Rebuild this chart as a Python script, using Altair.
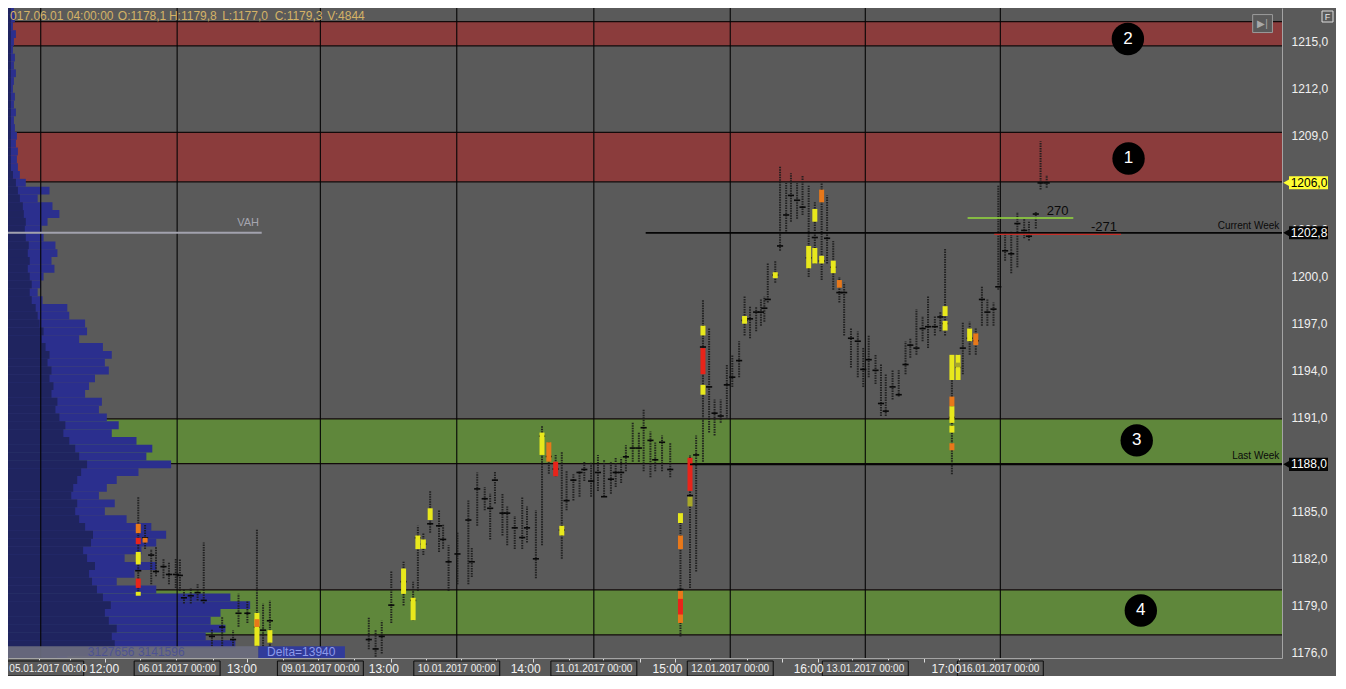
import altair as alt
import pandas as pd

W, H = 1274, 650
T_MAX = 186.8
P_LO, P_HI = 1175.62, 1217.17
VOL_MAX = 128900
BG = "#5a5a5a"
FONT = "Liberation Sans"

# ---------------- price bars (bar index, low, high, close) ----------------
barsA_t = [19.1, 20.1, 21.0, 21.7, 22.8, 23.6, 24.6, 25.2, 25.8, 26.8,
           27.8, 28.7, 29.9, 31.4, 33.0, 33.8, 35.1, 36.5, 37.4, 38.4]
barsA_low = [1179.72, 1182.58, 1180.34, 1180.84, 1180.71, 1180.34, 1180.09, 1179.91, 1179.10, 1179.10,
             1179.29, 1179.10, 1176.37, 1176.37, 1176.40, 1177.61, 1177.86, 1176.37, 1176.37, 1176.40]
barsA_high = [1185.93, 1184.13, 1182.58, 1182.70, 1181.96, 1181.77, 1181.96, 1181.96, 1180.00, 1180.09,
              1180.34, 1183.01, 1177.42, 1178.23, 1177.40, 1179.72, 1179.29, 1183.82, 1179.10, 1179.30]
barsA_close = [1181.2, 1183.3, 1182.2, 1181.15, 1181.46, 1180.96, 1180.96, 1180.9, 1179.47, 1179.6,
               1179.8, 1179.3, 1177.0, 1177.6, 1176.8, 1178.48, 1178.48, 1177.6, 1177.4, 1178.0]

barsB_t = [52.9, 53.9, 54.8, 56.2, 58.0, 59.4, 60.1, 60.9, 61.9, 63.2,
           63.8, 64.6, 65.9, 67.5, 68.0, 68.8, 69.9, 70.7, 71.4, 72.5,
           73.2, 74.3, 75.4, 76.1, 77.4, 78.3, 79.3, 80.3, 81.2, 81.9,
           82.9, 83.8, 84.5, 85.5, 86.5, 87.4, 88.4, 89.1, 89.9, 90.6,
           91.6, 92.5, 93.2, 94.2, 94.9, 95.9, 97.1]
barsB_low = [1176.18, 1175.70, 1175.90, 1177.86, 1178.98, 1178.04, 1179.91, 1182.20, 1183.63, 1182.39,
             1182.60, 1179.91, 1180.34, 1180.34, 1180.80, 1184.07, 1185.06, 1183.20, 1185.50, 1183.45,
             1182.83, 1182.58, 1182.58, 1183.01, 1180.71, 1182.83, 1187.40, 1187.24, 1181.96, 1185.06,
             1185.68, 1185.93, 1186.93, 1185.93, 1186.30, 1185.93, 1186.12, 1186.55, 1186.80, 1187.55,
             1188.17, 1188.17, 1187.55, 1187.17, 1187.55, 1187.55, 1187.17]
barsB_high = [1178.23, 1177.40, 1178.00, 1181.15, 1181.77, 1180.50, 1184.07, 1183.60, 1186.30, 1185.06,
              1184.20, 1182.83, 1183.63, 1185.68, 1182.70, 1187.48, 1186.55, 1186.12, 1187.55, 1186.12,
              1185.31, 1184.69, 1185.93, 1185.31, 1185.06, 1190.47, 1189.40, 1188.60, 1188.79, 1187.55,
              1187.36, 1187.55, 1188.17, 1188.17, 1188.60, 1188.29, 1188.17, 1188.42, 1188.42, 1189.22,
              1190.65, 1190.03, 1191.52, 1190.10, 1189.40, 1189.84, 1189.41]
barsB_close = [1176.8, 1176.2, 1177.0, 1179.0, 1180.5, 1179.3, 1183.3, 1182.9, 1184.2, 1184.07,
               1183.2, 1181.77, 1182.27, 1184.44, 1181.77, 1186.43, 1185.8, 1185.19, 1186.99, 1184.88,
               1184.88, 1183.94, 1183.32, 1183.94, 1181.96, 1189.8, 1188.5, 1187.7, 1183.8, 1185.68,
               1186.99, 1187.48, 1187.67, 1186.93, 1187.48, 1185.93, 1187.05, 1187.48, 1187.48, 1188.48,
               1189.04, 1189.04, 1190.34, 1189.53, 1188.29, 1189.41, 1187.67]

barsC_t = [98.6, 100.0, 100.9, 101.9, 102.8, 103.6, 104.5, 105.4, 106.2, 107.2,
           108.0, 108.8, 109.7, 110.4, 110.9, 111.4, 112.5, 113.2, 114.1, 114.8,
           115.7, 116.5, 117.4, 118.3, 119.3, 120.1, 121.0, 121.9, 122.6, 123.6,
           124.6, 125.4, 126.2, 127.2, 128.0, 128.7, 129.7, 130.6, 131.6, 132.3,
           133.2, 134.1, 134.9, 135.9, 136.7, 137.4, 138.4, 139.3, 140.0, 141.0,
           141.9, 142.8, 143.6, 144.5, 145.2, 146.2, 147.1, 148.0, 149.0, 149.7,
           150.7, 151.4, 152.3]
barsC_low = [1177.00, 1180.09, 1181.15, 1188.17, 1190.03, 1189.84, 1190.65, 1190.90, 1192.95, 1193.57,
             1196.24, 1196.06, 1196.50, 1196.86, 1197.11, 1198.35, 1199.60, 1201.65, 1202.89, 1203.51,
             1203.70, 1203.94, 1199.97, 1200.84, 1199.78, 1200.84, 1199.16, 1198.35, 1196.24, 1194.19,
             1193.57, 1192.95, 1193.57, 1193.14, 1191.09, 1191.09, 1192.14, 1192.33, 1193.76, 1194.81,
             1195.00, 1195.87, 1195.43, 1196.24, 1196.50, 1196.24, 1187.36, 1193.39, 1193.76, 1195.00,
             1195.00, 1196.86, 1196.86, 1196.86, 1199.16, 1201.02, 1200.22, 1200.59, 1202.45, 1202.30,
             1203.07, 1205.56, 1205.68]
barsC_high = [1184.88, 1188.60, 1189.84, 1198.54, 1196.68, 1192.14, 1192.14, 1194.38, 1195.00, 1195.87,
              1198.73, 1198.11, 1198.11, 1198.54, 1198.73, 1200.84, 1201.02, 1207.05, 1205.99, 1206.61,
              1205.99, 1206.49, 1205.81, 1204.75, 1205.99, 1205.19, 1202.27, 1199.97, 1199.60, 1196.68,
              1196.49, 1195.43, 1196.24, 1195.00, 1194.38, 1193.76, 1194.01, 1194.01, 1195.87, 1196.06,
              1197.92, 1197.48, 1198.73, 1197.48, 1197.73, 1201.83, 1195.00, 1195.00, 1197.11, 1197.11,
              1196.68, 1199.35, 1198.54, 1198.35, 1205.81, 1202.89, 1202.89, 1204.13, 1203.70, 1203.50,
              1204.13, 1208.66, 1206.49]
barsC_close = [1180.0, 1186.0, 1188.6, 1195.5, 1192.95, 1191.27, 1191.09, 1193.08, 1193.57, 1194.63,
               1197.2, 1197.3, 1197.73, 1197.73, 1197.98, 1198.54, 1200.1, 1201.96, 1203.94, 1205.19,
               1204.88, 1204.44, 1201.2, 1202.5, 1201.0, 1202.45, 1200.6, 1198.98, 1198.98, 1196.06,
               1195.87, 1194.07, 1194.69, 1194.01, 1191.89, 1191.4, 1192.95, 1192.45, 1194.38, 1195.62,
               1195.43, 1196.68, 1196.8, 1196.8, 1197.42, 1197.0, 1191.0, 1194.2, 1195.43, 1196.06,
               1195.9, 1198.54, 1197.73, 1197.92, 1199.35, 1201.65, 1201.46, 1203.39, 1202.95, 1202.58,
               1204.0, 1205.99, 1205.99]

# ---------------- high-volume clusters on the bars ----------------
blob_t = [19.1, 19.1, 19.1, 19.1, 19.1, 20.1, 36.5, 36.5, 38.4,
          58.0, 59.4, 60.1, 60.9, 61.9, 78.3, 79.3, 80.3, 81.2,
          98.6, 98.6, 98.6, 98.6, 100.0, 100.0, 101.9, 101.9, 101.9,
          108.0, 112.5, 117.4, 118.3, 118.3, 119.3, 119.3, 121.0, 121.9,
          137.4, 137.4, 138.4, 138.4, 138.4, 138.4, 138.4, 139.3, 139.3, 141.0, 141.9]
blob_lo = [1183.6, 1182.9, 1181.6, 1180.1, 1179.6, 1183.0, 1176.4, 1177.6, 1176.6,
           1179.72, 1178.04, 1182.58, 1182.6, 1184.44, 1188.6, 1188.17, 1187.24, 1183.45,
           1184.25, 1182.58, 1177.86, 1178.4, 1186.3, 1185.31, 1196.24, 1193.76, 1192.45,
           1196.99, 1199.9, 1200.53, 1203.51, 1200.84, 1204.75, 1200.84, 1200.22, 1199.29,
           1197.48, 1196.55, 1193.39, 1191.71, 1190.65, 1190.03, 1188.9, 1193.39, 1194.2, 1195.87, 1195.62]
blob_hi = [1184.2, 1183.3, 1182.4, 1180.7, 1179.85, 1183.3, 1178.5, 1178.1, 1177.4,
           1181.34, 1179.47, 1183.45, 1183.2, 1185.19, 1190.03, 1189.41, 1188.17, 1184.07,
           1184.88, 1183.45, 1179.91, 1179.4, 1188.42, 1185.93, 1196.86, 1195.43, 1193.08,
           1197.48, 1200.28, 1201.96, 1204.32, 1201.83, 1205.56, 1201.33, 1201.02, 1199.78,
           1198.11, 1197.17, 1195.0, 1192.33, 1191.71, 1190.47, 1189.35, 1195.0, 1194.5, 1196.68, 1196.37]
blob_kind = ["orange", "red", "yellow", "red", "yellow", "orange", "yellow", "orange", "yellow",
             "yellow", "yellow", "yellow", "yellow", "yellow", "yellow", "orange", "red", "yellow",
             "yellow", "orange", "orange", "red", "red", "olive", "yellow", "red", "yellow",
             "yellow", "yellow", "yellow", "yellow", "yellow", "orange", "yellow", "yellow", "orange",
             "yellow", "yellow", "yellow", "orange", "yellow", "yellow", "orange", "yellow", "olive", "yellow", "orange"]

# ---------------- volume profile (price level, volume) ----------------
prof_price = [1175.5 + 0.5 * i for i in range(84)]
prof_total = [6000, 11000, 23000, 20000, 22000, 20500, 21500, 24500, 22500, 15000,
              11000, 12800, 15000, 11800, 13500, 15000, 16000, 14500, 12000, 9800,
              10800, 9200, 10000, 11000, 13200, 16500, 14000, 14600, 13000, 10500,
              11200, 10000, 9200, 9500, 7800, 8200, 8800, 10200, 9800, 10500,
              9600, 7200, 8000, 7800, 6200, 6000, 3500, 3000, 3300, 3600,
              4700, 4400, 5000, 4800, 3600, 3400, 4000, 5200, 4500, 3000,
              4200, 1800, 1200, 1000, 900, 1000, 800, 900, 700, 600,
              800, 600, 700, 500, 600, 800, 600, 700, 500, 600,
              800, 500, 700, 600]
prof_prev = [5000, 10000, 10800, 10500, 11000, 10200, 9800, 10400, 9600, 9000,
             8500, 8200, 8800, 8000, 7600, 8400, 8600, 7800, 7200, 6800,
             7000, 6400, 6600, 7000, 7400, 8000, 7200, 6800, 6200, 5600,
             5800, 5200, 4800, 5000, 4400, 4600, 4200, 4400, 4000, 4200,
             3800, 3400, 3600, 3200, 3000, 2800, 2400, 2200, 2400, 2200,
             2000, 2200, 2000, 2100, 1800, 1700, 1800, 1600, 1500, 1200,
             1000, 800, 500, 300, 300, 300, 300, 300, 300, 300,
             300, 300, 300, 300, 300, 300, 300, 300, 300, 300,
             300, 300, 300, 300]

# ---------------- zones / levels ----------------
zone_lo = [1214.75, 1206.06, 1188.04, 1177.10]
zone_hi = [1216.30, 1209.22, 1190.90, 1179.97]
zone_kind = ["resistance", "resistance", "support", "support"]
circle_t = [164.2, 164.3, 165.5, 166.1]
circle_p = [1215.19, 1207.55, 1189.53, 1178.66]
circle_label = ["2", "1", "3", "4"]

line_name = ["VAH", "Current Week", "Last Week", "Delta +", "Delta -"]
line_t0 = [0.0, 93.5, 100.0, 140.7, 144.6]
line_t1 = [37.2, T_MAX, T_MAX, 156.2, 163.2]
line_p = [1202.8, 1202.8, 1188.0, 1203.75, 1202.7]

# ---------------- time axis ----------------
session_t = [4.8, 24.8, 45.8, 65.8, 85.9, 105.9, 125.7, 145.5]
session_label = ["05.01.2017 00:00", "06.01.2017 00:00", "09.01.2017 00:00", "10.01.2017 00:00",
                 "11.01.2017 00:00", "12.01.2017 00:00", "13.01.2017 00:00", "16.01.2017 00:00"]
tick_t = [4.6, 9.1, 14.2, 19.4, 24.6, 30.0, 35.1, 40.3, 45.5, 50.7, 56.1, 61.3, 66.4, 71.6, 77.0,
          82.2, 87.2, 92.6, 97.8, 103.0, 108.3, 113.5, 118.7, 123.8, 129.0, 134.3, 139.4, 144.6, 149.9]
hour_t = [14.1, 34.3, 55.1, 75.9, 96.7, 117.4, 137.6]
hour_label = ["12:00", "13:00", "13:00", "14:00", "15:00", "16:00", "17:00"]
price_ticks = [1176, 1179, 1182, 1185, 1188, 1191, 1194, 1197, 1200, 1203, 1206, 1209, 1212, 1215]

tag_p = [1206.0, 1202.8, 1188.0]
tag_kind = ["last", "level", "level"]

header_t = [0.3, 16.1, 23.6, 31.4, 39.1, 46.8]
header_text = ["017.06.01 04:00:00", "O:1178,1", "H:1179,8", "L:1177,0", "C:1179,3", "V:4844"]

# ---------------- scales / axes ----------------
xs = alt.Scale(domain=[0, T_MAX], nice=False, zero=False)
ys = alt.Scale(domain=[P_LO, P_HI], nice=False, zero=False)
vs = alt.Scale(domain=[0, VOL_MAX], nice=False, zero=True)

xax = alt.Axis(values=tick_t, labels=False, title=None, grid=False, domainColor="#a4a4a4",
               tickColor="#dcdcdc", tickSize=4)
y_expr = "(datum.value == 1206 || datum.value == 1188) ? '' : replace(format(datum.value, '.1f'), '.', ',')"
yax = alt.Axis(orient="right", values=price_ticks, labelExpr=y_expr, title=None, grid=False,
               ticks=False, domainColor="#a4a4a4", labelColor="#f0f0f0", labelFont=FONT,
               labelFontSize=12, labelPadding=9, labelOverlap=False)


def X(f, axis=xax):
    return alt.X(f, scale=xs, axis=axis)


def Y(f):
    return alt.Y(f, scale=ys, axis=yax)


def palette(domain, rng):
    return alt.Scale(domain=domain, range=rng)


# ---------------- data frames ----------------
bars = pd.DataFrame({
    "t": barsA_t + barsB_t + barsC_t,
    "low": barsA_low + barsB_low + barsC_low,
    "high": barsA_high + barsB_high + barsC_high,
    "close": barsA_close + barsB_close + barsC_close,
})
blobs = pd.DataFrame({"t": blob_t, "lo": blob_lo, "hi": blob_hi, "kind": blob_kind})
prof = pd.DataFrame({"price": prof_price, "total": prof_total, "prev": prof_prev})
zones = pd.DataFrame({"lo": zone_lo, "hi": zone_hi, "kind": zone_kind})
circles = pd.DataFrame({"t": circle_t, "p": circle_p, "label": circle_label})
lines = pd.DataFrame({"name": line_name, "t0": line_t0, "t1": line_t1, "p": line_p})
sessions = pd.DataFrame({"t": session_t, "label": session_label})
hours = pd.DataFrame({"t": hour_t, "label": hour_label})
grid = pd.DataFrame({"t": session_t})
tags = pd.DataFrame({"p": tag_p, "kind": tag_kind,
                     "label": [f"{v:.1f}".replace(".", ",") for v in tag_p]})
header = pd.DataFrame({"t": header_t, "label": header_text})

# ---------------- layer 1: zones ----------------
zone_fill = alt.Chart(zones).transform_calculate(t0="0", t1=str(T_MAX)).mark_rect().encode(
    x=X("t0:Q", axis=None), x2="t1:Q", y=Y("lo:Q"), y2="hi:Q",
    color=alt.Color("kind:N", scale=palette(["resistance", "support"], ["#8b3c3c", "#5f873b"]),
                    legend=None))
zone_edges = alt.Chart(zones).transform_fold(["lo", "hi"], as_=["edge", "p"]).transform_calculate(
    t0="0", t1=str(T_MAX)).mark_rule(color="#120a0a", strokeWidth=1.2).encode(
    x=X("t0:Q", axis=None), x2="t1:Q", y=Y("p:Q"))
L1 = alt.layer(zone_fill, zone_edges)

# ---------------- layer 2: volume profile ----------------
prof_base = alt.Chart(prof).transform_calculate(
    p0="datum.price - 0.25", p1="datum.price + 0.25", z="0")
prof_total_l = prof_base.mark_rect(color="#2b2f8e", clip=True).encode(
    x=alt.X("z:Q", scale=vs, axis=None), x2="total:Q", y=Y("p0:Q"), y2="p1:Q")
prof_prev_l = prof_base.mark_rect(color="#1f245f", clip=True).encode(
    x=alt.X("z:Q", scale=vs, axis=None), x2="prev:Q", y=Y("p0:Q"), y2="p1:Q")
L2 = alt.layer(prof_total_l, prof_prev_l)

# ---------------- layer 3: everything on the time axis ----------------
grid_l = alt.Chart(grid).mark_rule(color="#050505", strokeWidth=1.1).encode(x=X("t:Q"))

lines_l = alt.Chart(lines).mark_rule(strokeCap="butt").encode(
    x=X("t0:Q"), x2="t1:Q", y=Y("p:Q"),
    color=alt.Color("name:N", scale=palette(line_name,
                    ["#a2a2ae", "#050505", "#050505", "#94dc3c", "#c8302a"]), legend=None),
    strokeWidth=alt.StrokeWidth("name:N", scale=palette(line_name, [2, 1.2, 3, 2.6, 2.6]),
                                legend=None))

bars_l = alt.Chart(bars).mark_rule(color="#1c1c1c", strokeWidth=2, strokeDash=[1.5, 1],
                                   opacity=0.9).encode(x=X("t:Q"), y=Y("low:Q"), y2="high:Q")
close_l = alt.Chart(bars).transform_calculate(a="datum.t - 0.45", b="datum.t + 0.45").mark_rule(
    color="#080808", strokeWidth=1.6).encode(x=X("a:Q"), x2="b:Q", y=Y("close:Q"))
blobs_l = alt.Chart(blobs).mark_rule(strokeWidth=5, strokeCap="butt").encode(
    x=X("t:Q"), y=Y("lo:Q"), y2="hi:Q",
    color=alt.Color("kind:N", scale=palette(["yellow", "orange", "red", "olive"],
                    ["#e8e81c", "#e8781a", "#e8241a", "#a8a828"]), legend=None))

# footer band with cumulative volume / delta
footer = pd.DataFrame({"t0": [0.0, 36.7], "t1": [36.7, 49.4], "kind": ["vol", "delta"],
                       "label": ["3127656 3141596", "Delta=13940"], "tc": [18.8, 43.0]})
footer_rect = alt.Chart(footer).transform_calculate(p0=str(P_LO), p1="1176.37").mark_rect(
    opacity=0.92).encode(
    x=X("t0:Q"), x2="t1:Q", y=Y("p0:Q"), y2="p1:Q",
    color=alt.Color("kind:N", scale=palette(["vol", "delta"], ["#6b6c7e", "#2e38a0"]), legend=None))
footer_text = alt.Chart(footer).transform_calculate(pm="1176.0").mark_text(
    fontSize=12, baseline="middle").encode(
    x=X("tc:Q"), y=Y("pm:Q"), text="label:N",
    color=alt.Color("kind:N", scale=palette(["vol", "delta"], ["#4d5292", "#8d9aea"]), legend=None))

# labels on the levels
lab_right = pd.DataFrame({"t": [186.4, 186.4], "p": [1203.25, 1188.55],
                          "label": ["Current Week", "Last Week"]})
lab_right_l = alt.Chart(lab_right).mark_text(align="right", baseline="middle", fontSize=10,
                                             color="#0a0a0a").encode(x=X("t:Q"), y=Y("p:Q"), text="label:N")
lab_delta = pd.DataFrame({"t": [153.9, 160.7], "p": [1204.2, 1203.2], "label": ["270", "-271"]})
lab_delta_l = alt.Chart(lab_delta).mark_text(align="center", baseline="middle", fontSize=13,
                                             color="#0a0a0a").encode(x=X("t:Q"), y=Y("p:Q"), text="label:N")
vah = pd.DataFrame({"t": [35.2], "p": [1203.45], "label": ["VAH"]})
vah_l = alt.Chart(vah).mark_text(align="center", baseline="middle", fontSize=11,
                                 color="#a6a6b0").encode(x=X("t:Q"), y=Y("p:Q"), text="label:N")

circ_l = alt.Chart(circles).mark_circle(size=1050, color="#000000", opacity=1).encode(
    x=X("t:Q"), y=Y("p:Q"))
circ_t = alt.Chart(circles).mark_text(fontSize=17, color="#ffffff", baseline="middle").encode(
    x=X("t:Q"), y=Y("p:Q"), text="label:N")

# header OHLC readout
head_l = alt.Chart(header).transform_calculate(p="1216.67").mark_text(
    align="left", baseline="middle", fontSize=12, color="#d4b266").encode(
    x=X("t:Q"), y=Y("p:Q"), text="label:N")

# session date boxes and hour labels below the plot
sess_box = alt.Chart(sessions).transform_calculate(a="datum.t - 6.3", b="datum.t + 6.3").mark_rect(
    fill=BG, stroke="#0c0c0c", strokeWidth=1).encode(
    x=X("a:Q"), x2="b:Q", y=alt.value(H + 3), y2=alt.value(H + 18))
sess_txt = alt.Chart(sessions).transform_calculate(tx="max(datum.t, 5.9)").mark_text(
    fontSize=10, color="#f0f0f0", baseline="middle").encode(
    x=X("tx:Q"), y=alt.value(H + 11), text="label:N")
hour_txt = alt.Chart(hours).mark_text(fontSize=12, color="#f2f2f2", baseline="middle").encode(
    x=X("t:Q"), y=alt.value(H + 11), text="label:N")

# price tags on the right axis
tag_fill = palette(["last", "level"], ["#ffff33", "#050505"])
tag_rect = alt.Chart(tags).transform_calculate(p0="datum.p - 0.42", p1="datum.p + 0.42").mark_rect().encode(
    x=alt.value(W + 7), x2=alt.value(W + 46), y=Y("p0:Q"), y2="p1:Q",
    color=alt.Color("kind:N", scale=tag_fill, legend=None))
tag_tri = alt.Chart(tags).mark_point(shape="triangle-left", filled=True, size=75, opacity=1).encode(
    x=alt.value(W + 5), y=Y("p:Q"),
    color=alt.Color("kind:N", scale=tag_fill, legend=None))
tag_txt = alt.Chart(tags).mark_text(fontSize=12, baseline="middle", align="center").encode(
    x=alt.value(W + 27), y=Y("p:Q"), text="label:N",
    color=alt.Color("kind:N", scale=palette(["last", "level"], ["#000000", "#ffffff"]), legend=None))

# small buttons
btn = pd.DataFrame({"t0": [182.5], "t1": [185.4], "p0": [1215.6], "p1": [1216.75], "tc": [183.95],
                    "pc": [1216.17], "label": ["▶|"]})
btn_rect = alt.Chart(btn).mark_rect(fill=BG, stroke="#9c9c9c", strokeWidth=1).encode(
    x=X("t0:Q"), x2="t1:Q", y=Y("p0:Q"), y2="p1:Q")
btn_txt = alt.Chart(btn).mark_text(fontSize=10, color="#a8a8a8", baseline="middle").encode(
    x=X("tc:Q"), y=Y("pc:Q"), text="label:N")
fbox = pd.DataFrame({"label": ["F"]})
f_rect = alt.Chart(fbox).mark_rect(fill=BG, stroke="#dcdcdc", strokeWidth=1).encode(
    x=alt.value(W + 40), x2=alt.value(W + 51), y=alt.value(3), y2=alt.value(14))
f_txt = alt.Chart(fbox).mark_text(fontSize=9, color="#e6e6e6", baseline="middle").encode(
    x=alt.value(W + 45.5), y=alt.value(9), text="label:N")

L3 = alt.layer(grid_l, bars_l, close_l, blobs_l, lines_l, footer_rect, footer_text,
               lab_right_l, lab_delta_l, vah_l, circ_l, circ_t, head_l, sess_box, sess_txt, hour_txt,
               tag_rect, tag_tri, tag_txt, btn_rect, btn_txt, f_rect, f_txt).resolve_scale(
    color="independent", strokeWidth="independent")

chart = alt.layer(L1, L2, L3).resolve_scale(x="independent", color="independent",
                                            strokeWidth="independent").properties(
    width=W, height=H,
    padding={"left": 0, "top": 0, "right": 54, "bottom": 18},
    autosize=alt.AutoSizeParams(type="none"),
).configure(background=BG, font=FONT).configure_view(stroke=None, fill=BG)

chart.save("out.html", embed_options={"renderer": "svg", "actions": False})
